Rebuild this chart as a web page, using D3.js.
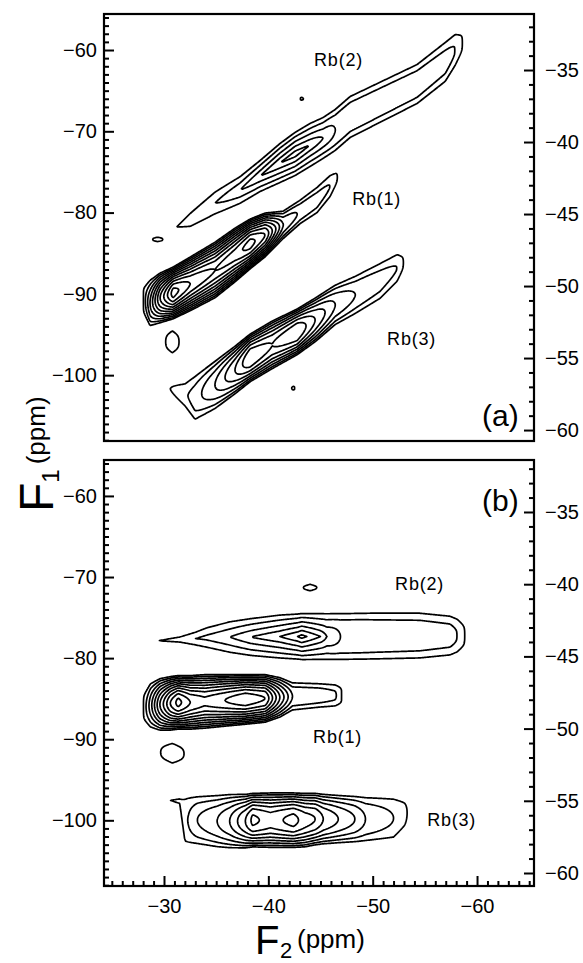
<!DOCTYPE html>
<html>
<head>
<meta charset="utf-8">
<script src="https://cdn.jsdelivr.net/npm/d3@7"></script>
<style>
  body { margin: 0; background: #fff; }
  svg text { font-family: "Liberation Sans", Arial, Helvetica, sans-serif; fill: #000; }
</style>
</head>
<body>
<svg id="chart" width="583" height="963"></svg>
<script>
// axis ranges (ppm)
const f2Range = [-24.25, -65.46];
const f1Range = [-108.1, -55.57];
const f1RightRangeA = [-60.76, -31.11];
const f1RightRangeB = [-60.9, -31.4];

const f2Ticks = [-30, -40, -50, -60];
const f1Ticks = [-60, -70, -80, -90, -100];
const f1RightTicks = [-35, -40, -45, -50, -55, -60];

// contour levels (in "number of contours" units)
const levels = [0.1, 1, 2, 3, 4, 5, 6, 7, 8, 9, 10, 11];

// ridges, one row per knot along F2:
// [F2, F1 of ridge centre, contour count on the ridge, outer half-width in F1, profile exponent]

// ---- panel (a) ----
const a_rb2 = [
  [-30.87, -82.01, 0, 0, 1],
  [-32.50, -80.91, 0.5, 0.98, 1],
  [-34.89, -78.82, 1.0, 1.48, 1],
  [-37.29, -77.22, 2.0, 1.72, 1],
  [-39.21, -75.50, 3.0, 1.97, 1],
  [-41.12, -73.90, 4.0, 2.46, 1],
  [-42.56, -72.79, 4.6, 2.71, 1],
  [-44.00, -71.68, 4.0, 2.71, 1],
  [-45.25, -70.82, 3.0, 2.58, 1.3],
  [-46.40, -69.84, 2.0, 2.58, 2],
  [-47.84, -68.24, 1.6, 2.58, 2.7],
  [-54.26, -64.18, 1.5, 2.46, 2.7],
  [-56.95, -61.47, 1.3, 2.46, 2.7],
  [-57.90, -60.00, 1.0, 1.97, 2.7],
  [-58.67, -59.01, 0, 0.98, 2.7]
];
const a_rb1 = [
  [-27.99, -90.75, 0, 1.48, 2],
  [-28.66, -91.12, 3, 2.83, 1.8],
  [-29.62, -90.50, 7, 3.08, 1.8],
  [-30.87, -89.89, 10.5, 3.20, 1.8],
  [-32.50, -88.78, 9, 3.32, 1.8],
  [-34.89, -87.06, 8, 3.44, 1.8],
  [-36.81, -85.21, 8.5, 3.32, 1.8],
  [-38.25, -83.86, 9.5, 3.08, 1.8],
  [-39.69, -82.75, 8, 2.71, 1.8],
  [-41.41, -81.52, 3, 1.72, 1.8],
  [-43.04, -79.92, 1.8, 1.48, 2],
  [-44.67, -78.45, 1.5, 1.60, 2],
  [-45.92, -76.73, 1.0, 1.35, 2],
  [-46.69, -75.50, 0, 0.62, 2]
];
const a_rb3 = [
  [-30.39, -101.57, 0, 0.37, 1],
  [-32.02, -102.43, 0.8, 1.48, 1.5],
  [-32.97, -102.80, 1.5, 2.71, 2],
  [-34.89, -101.20, 3, 2.95, 2],
  [-36.81, -99.36, 5, 2.95, 2],
  [-38.25, -97.88, 7, 2.95, 2],
  [-40.36, -96.28, 6, 2.95, 2],
  [-42.75, -94.68, 7, 2.83, 2],
  [-44.48, -93.21, 5, 2.71, 2],
  [-46.40, -91.36, 3, 2.46, 2],
  [-48.32, -90.13, 2, 2.34, 2],
  [-50.71, -88.41, 1.5, 2.21, 2],
  [-52.34, -86.81, 1.0, 1.72, 2],
  [-53.01, -86.07, 0, 0.74, 2]
];
const a_spots = [
  [[-30.0, -95.9, 0, 0.9, 2], [-30.8, -95.9, 0.5, 1.5, 2], [-31.6, -95.9, 0, 0.9, 2]],
  [[-28.8, -83.3, 0, 0.2, 2], [-29.4, -83.3, 0.5, 0.3, 2], [-30.0, -83.3, 0, 0.2, 2]],
  [[-43.0, -66.0, 0, 0.15, 2], [-43.2, -66.0, 0.5, 0.2, 2], [-43.4, -66.0, 0, 0.15, 2]],
  [[-42.2, -101.6, 0, 0.2, 2], [-42.4, -101.6, 0.5, 0.25, 2], [-42.6, -101.6, 0, 0.2, 2]]
];

// ---- panel (b) ----
const b_rb2 = [
  [-29.0, -77.89, 0, 0, 1],
  [-31.5, -77.71, 0.6, 0.37, 1],
  [-33.0, -77.59, 1.0, 0.86, 1],
  [-34.1, -77.46, 1.3, 1.29, 1],
  [-36.3, -77.40, 2.0, 1.97, 1],
  [-38.3, -77.40, 3.0, 2.34, 1],
  [-41.1, -77.34, 4.0, 2.71, 1],
  [-42.8, -77.34, 5.0, 2.83, 1],
  [-43.2, -77.34, 5.4, 2.89, 1],
  [-43.7, -77.34, 5.0, 2.89, 1],
  [-45.0, -77.34, 4.0, 2.89, 1],
  [-45.6, -77.34, 3.0, 2.89, 1.2],
  [-46.9, -77.34, 2.0, 2.89, 2],
  [-50.0, -77.28, 1.6, 2.89, 2.7],
  [-54.5, -77.22, 1.5, 2.83, 2.7],
  [-57.4, -77.22, 1.3, 2.46, 2.7],
  [-58.1, -77.22, 1.0, 2.09, 2.7],
  [-58.9, -77.22, 0, 1.2, 2.7]
];
const b_rb1 = [
  [-28.0, -86.07, 0, 1.48, 2],
  [-28.7, -85.83, 2.5, 2.71, 1.8],
  [-29.6, -85.71, 6, 3.20, 1.8],
  [-30.6, -85.58, 9, 3.32, 1.8],
  [-31.35, -85.46, 10.4, 3.32, 1.8],
  [-32.5, -85.46, 9, 3.32, 1.8],
  [-33.9, -85.34, 8.3, 3.32, 1.8],
  [-35.85, -85.21, 9, 3.20, 1.8],
  [-37.8, -85.09, 9.8, 3.08, 1.8],
  [-39.7, -84.97, 9, 2.95, 1.8],
  [-41.1, -84.84, 5, 2.46, 1.8],
  [-42.3, -84.72, 2, 1.72, 1.8],
  [-44.96, -84.60, 1.6, 1.48, 2],
  [-46.4, -84.60, 1.2, 1.35, 2],
  [-47.1, -84.60, 0, 1.0, 2]
];
const b_rb3 = [
  [-30.3, -97.51, 0, 0, 1],
  [-31.5, -97.64, 0.4, 0.37, 1],
  [-32.0, -99.98, 0.9, 2.71, 2],
  [-32.3, -99.98, 1.0, 2.83, 2],
  [-33.2, -99.98, 2.0, 2.95, 2],
  [-35.1, -100.10, 3.0, 3.20, 2],
  [-36.3, -100.10, 4.0, 3.32, 2],
  [-37.8, -100.10, 6.0, 3.32, 2],
  [-38.5, -99.98, 7.3, 3.32, 2],
  [-40.2, -99.98, 6.5, 3.38, 2],
  [-42.4, -99.98, 7.4, 3.38, 2],
  [-43.5, -99.98, 6.5, 3.32, 2],
  [-44.5, -99.85, 6.0, 3.20, 2],
  [-45.25, -99.85, 5.0, 3.08, 2],
  [-46.7, -99.85, 4.0, 2.95, 2],
  [-48.3, -99.85, 3.0, 2.83, 2],
  [-49.3, -99.85, 2.0, 2.71, 2],
  [-52.0, -99.73, 1.0, 2.46, 2],
  [-53.1, -99.23, 0.3, 1.60, 2],
  [-53.4, -99.0, 0, 0.8, 2]
];
const b_spots = [
  [[-29.4, -91.6, 0, 0.8, 2], [-30.8, -91.73, 0.5, 1.35, 2], [-32.2, -91.8, 0, 0.8, 2]],
  [[-43.2, -71.3, 0, 0.2, 2], [-44.0, -71.3, 0.5, 0.45, 2], [-44.8, -71.3, 0, 0.2, 2]]
];

// peak labels: [text, F2 of left edge, F1 of baseline (left scale)]
const labelsA = [["Rb(2)", -44.38, -61.93], ["Rb(1)", -48.03, -79.06], ["Rb(3)", -51.38, -96.28]];
const labelsB = [["Rb(2)", -52.15, -71.56], ["Rb(1)", -44.29, -90.50], ["Rb(3)", -55.22, -100.71]];

// ---------------------------------------------------------------
const svg = d3.select("#chart");
const left = 104, right = 534;
const x = d3.scaleLinear().domain(f2Range).range([left, right]);
const fmt = d => "\u2212" + Math.abs(d);

const panels = [
  { top: 14, bottom: 441, tag: "(a)", ridges: [a_rb2, a_rb1, a_rb3, ...a_spots], labels: labelsA, right: f1RightRangeA, xAxis: false },
  { top: 460, bottom: 886, tag: "(b)", ridges: [b_rb2, b_rb1, b_rb3, ...b_spots], labels: labelsB, right: f1RightRangeB, xAxis: true }
];

function ridgeAt(knots, f2) {
  const n = knots.length;
  if (f2 > knots[0][0] || f2 < knots[n - 1][0]) return null;
  for (let k = 0; k < n - 1; k++) {
    const a = knots[k], b = knots[k + 1];
    if (f2 <= a[0] && f2 >= b[0]) {
      const t = a[0] === b[0] ? 0 : (a[0] - f2) / (a[0] - b[0]);
      return a.map((v, m) => v + (b[m] - v) * t);
    }
  }
  return null;
}

panels.forEach((p, pi) => {
  const y = d3.scaleLinear().domain(f1Range).range([p.bottom, p.top]);
  const yR = d3.scaleLinear().domain(p.right).range([p.bottom, p.top]);
  const g = svg.append("g");

  // clip
  g.append("clipPath").attr("id", "clip" + pi)
    .append("rect").attr("x", left).attr("y", p.top)
    .attr("width", right - left).attr("height", p.bottom - p.top);

  // build the grid from the ridges
  const nx = right - left, ny = p.bottom - p.top;
  const values = new Float64Array(nx * ny).fill(-1);
  for (let i = 0; i < nx; i++) {
    const f2 = x.invert(left + i + 0.5);
    const rows = p.ridges.map(r => ridgeAt(r, f2)).filter(r => r && r[3] > 0);
    if (!rows.length) continue;
    for (let j = 0; j < ny; j++) {
      const f1 = y.invert(p.top + j + 0.5);
      let v = -1;
      for (const r of rows) {
        const d = Math.abs(f1 - r[1]) / r[3];
        const w = r[2] * (1 - Math.pow(d, r[4]));
        if (w > v) v = w;
      }
      values[j * nx + i] = Math.max(v, -1);
    }
  }

  const contours = d3.contours().size([nx, ny]).thresholds(levels)(values);
  const path = d3.geoPath(d3.geoTransform({
    point(px, py) { this.stream.point(left + px, p.top + py); }
  }));
  g.append("g").attr("clip-path", `url(#clip${pi})`)
    .selectAll("path").data(contours).join("path")
    .attr("d", path)
    .attr("fill", "none")
    .attr("stroke", "#000")
    .attr("stroke-width", 1.7)
    .attr("stroke-linejoin", "round");

  // frame
  g.append("rect").attr("x", left).attr("y", p.top)
    .attr("width", right - left).attr("height", p.bottom - p.top)
    .attr("fill", "none").attr("stroke", "#000").attr("stroke-width", 2.2);

  // left axis
  const minorL = d3.range(-56, -108.5, -1).filter(v => !f1Ticks.includes(v));
  g.append("g").attr("transform", `translate(${left},0)`)
    .call(d3.axisLeft(y).tickValues(minorL).tickSizeInner(-5).tickSizeOuter(0).tickFormat(""))
    .call(s => s.select(".domain").remove());
  g.append("g").attr("transform", `translate(${left},0)`)
    .call(d3.axisLeft(y).tickValues(f1Ticks).tickSizeInner(-10).tickSizeOuter(0).tickPadding(7).tickFormat(fmt))
    .call(s => s.select(".domain").remove());

  // right axis
  const minorR = d3.range(-32, -60.5, -1).filter(v => !f1RightTicks.includes(v));
  g.append("g").attr("transform", `translate(${right},0)`)
    .call(d3.axisRight(yR).tickValues(minorR).tickSizeInner(-5).tickSizeOuter(0).tickFormat(""))
    .call(s => s.select(".domain").remove());
  g.append("g").attr("transform", `translate(${right},0)`)
    .call(d3.axisRight(yR).tickValues(f1RightTicks).tickSizeInner(-10).tickSizeOuter(0).tickPadding(11).tickFormat(fmt))
    .call(s => s.select(".domain").remove());

  if (p.xAxis) {
    const minorX = d3.range(-25, -65.5, -1).filter(v => !f2Ticks.includes(v));
    g.append("g").attr("transform", `translate(0,${p.bottom})`)
      .call(d3.axisBottom(x).tickValues(minorX).tickSizeInner(-5).tickSizeOuter(0).tickFormat(""))
      .call(s => s.select(".domain").remove());
    g.append("g").attr("transform", `translate(0,${p.bottom})`)
      .call(d3.axisBottom(x).tickValues(f2Ticks).tickSizeInner(-10).tickSizeOuter(0).tickPadding(13).tickFormat(fmt))
      .call(s => s.select(".domain").remove());
  }

  g.selectAll(".tick line").attr("stroke", "#000").attr("stroke-width", 2);
  g.selectAll(".tick text").attr("font-size", 20).attr("font-family", null);

  // peak labels
  g.selectAll("text.peak").data(p.labels).join("text")
    .attr("class", "peak")
    .attr("x", d => x(d[1])).attr("y", d => y(d[2]))
    .attr("font-size", 18).attr("letter-spacing", 0.8)
    .text(d => d[0]);

  g.append("text").attr("x", 482).attr("y", p.top + (pi === 0 ? 412 : 51))
    .attr("font-size", 30).text(p.tag);
});

// axis titles
const xt = svg.append("text").attr("y", 954);
xt.append("tspan").attr("x", 255).attr("font-size", 40).text("F");
xt.append("tspan").attr("x", 280).attr("dy", 4).attr("font-size", 22).text("2");
xt.append("tspan").attr("x", 297).attr("dy", -10).attr("font-size", 26).text("(ppm)");

const yt = svg.append("text").attr("transform", "translate(53,512) rotate(-90)");
yt.append("tspan").attr("x", 0).attr("font-size", 48).text("F");
yt.append("tspan").attr("dy", 6).attr("font-size", 24).text("1");
yt.append("tspan").attr("dx", 5).attr("dy", -14).attr("font-size", 26).text("(ppm)");
</script>
</body>
</html>
